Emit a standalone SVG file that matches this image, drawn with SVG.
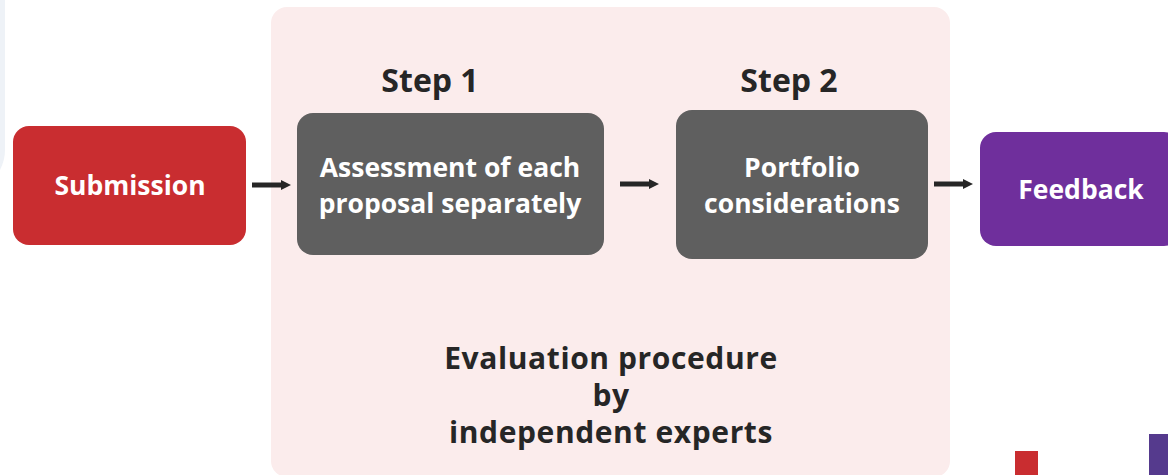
<svg xmlns="http://www.w3.org/2000/svg" width="1168" height="475" viewBox="0 0 1168 475">
<style>
.t{font-family:"Open Sans","Noto Sans",sans-serif;font-weight:700;text-anchor:middle}
.w{fill:#ffffff;font-size:26.5px}
.d{fill:#262626;font-size:32px}
.e{fill:#262626;font-size:30px;letter-spacing:0.6px}
.c{stroke:#262626;stroke-width:5;fill:none;marker-end:url(#ah)}
</style>
<defs>
<marker id="ah" viewBox="0 0 10 10" refX="1" refY="5" markerWidth="2" markerHeight="2" orient="auto" markerUnits="strokeWidth">
<path d="M0,0 L10,5 L0,10 z" fill="#262626"/>
</marker>
</defs>
<rect width="1168" height="475" fill="#ffffff"/>
<path d="M0,0 H5 V150 Q5,160 0,170 Z" fill="#eef2f7"/>
<g id="panel">
<rect x="271" y="7" width="679" height="470" rx="16" fill="#fbecec"/>
<text class="t e" x="611" y="369">Evaluation procedure</text>
<text class="t e" x="611" y="406">by</text>
<text class="t e" x="611" y="443">independent experts</text>
</g>
<g id="step1">
<text class="t d" x="430" y="92">Step 1</text>
<rect x="297" y="113" width="307" height="142" rx="16" fill="#5f5f5f"/>
<text class="t w" x="450" y="177">Assessment of each</text>
<text class="t w" x="450" y="213">proposal separately</text>
</g>
<g id="step2">
<text class="t d" x="789" y="92">Step 2</text>
<rect x="676" y="110" width="252" height="149" rx="16" fill="#5f5f5f"/>
<text class="t w" x="802" y="177">Portfolio</text>
<text class="t w" x="802" y="213">considerations</text>
</g>
<g id="submission">
<rect x="13" y="126" width="233" height="119" rx="16" fill="#c92d30"/>
<text class="t w" x="130" y="195">Submission</text>
</g>
<g id="feedback">
<rect x="980" y="132" width="200" height="114" rx="16" fill="#6f2f9c"/>
<text class="t w" x="1081" y="199">Feedback</text>
</g>
<g id="connectors">
<line class="c" x1="252" y1="185" x2="282" y2="185"/>
<line class="c" x1="620" y1="184" x2="650" y2="184"/>
<line class="c" x1="934" y1="184" x2="964" y2="184"/>
</g>
<rect x="1015" y="451" width="23" height="30" fill="#c92d30"/>
<rect x="1149" y="434" width="25" height="45" fill="#553a8d"/>
</svg>
